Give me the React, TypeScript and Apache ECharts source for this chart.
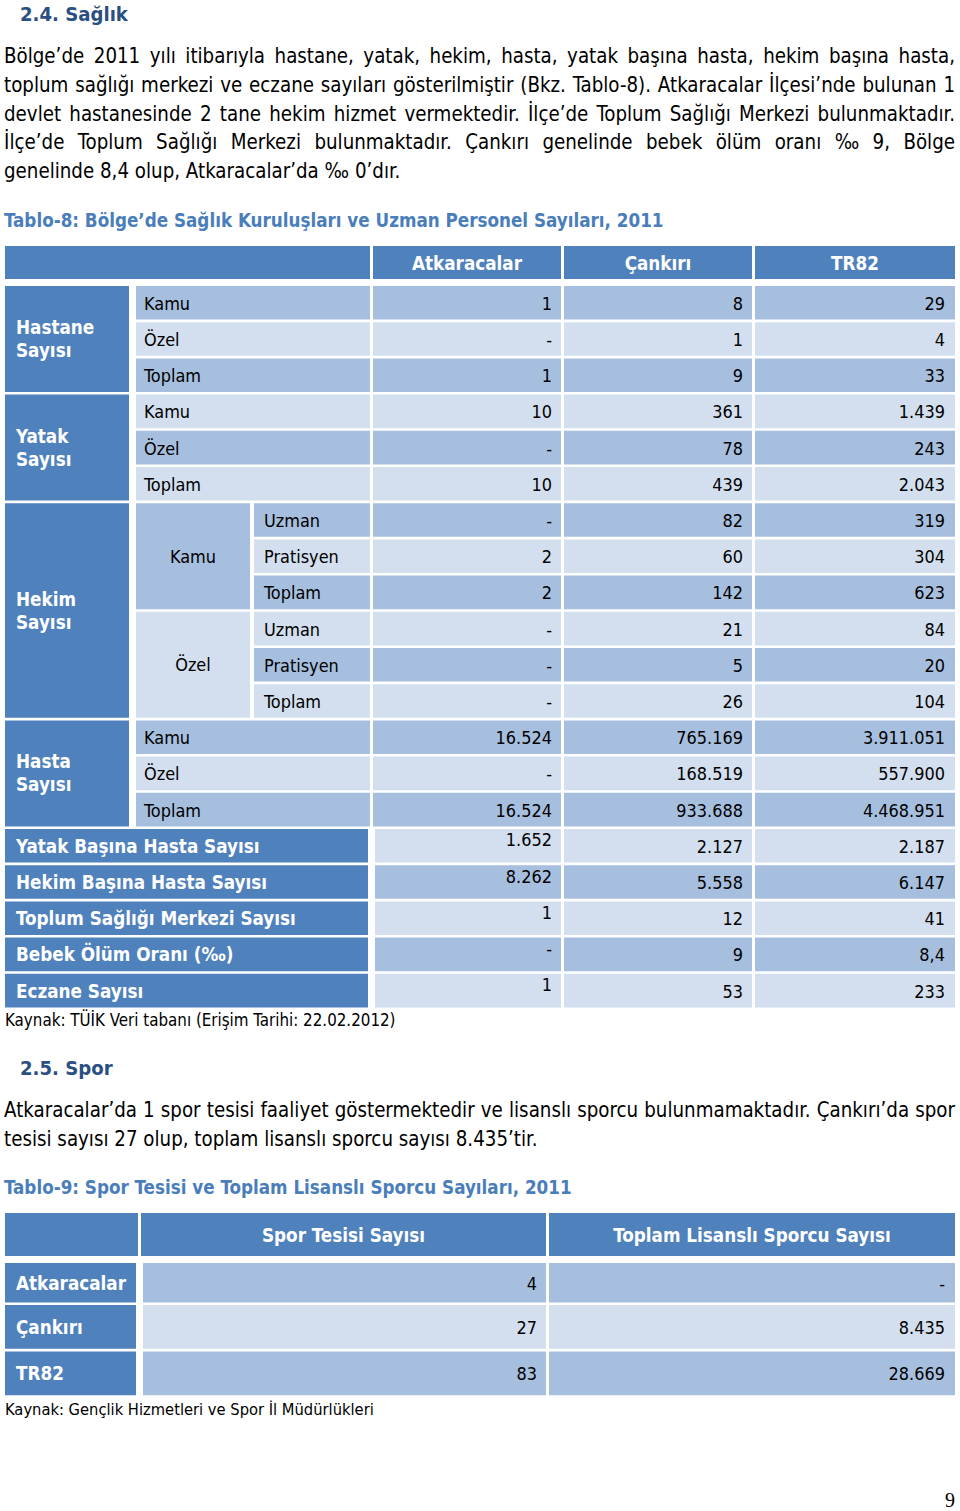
import React, { useEffect, useRef } from 'react';
import * as echarts from 'echarts';

const FF = '"DejaVu Sans Condensed", "DejaVu Sans", sans-serif';
const SERIF = '"Liberation Serif", "DejaVu Serif", serif';

const headingColor = '#2B4F82';
const titleColor = '#4A7EBB';
const headFill = '#4F81BD';
const darkFill = '#A7BFDE';
const lightFill = '#D3DFEE';

const heading1 = '2.4. Sağlık';
const para1 = [
  'Bölge’de 2011 yılı itibarıyla hastane, yatak, hekim, hasta, yatak başına hasta, hekim başına hasta,',
  'toplum sağlığı merkezi ve eczane sayıları gösterilmiştir (Bkz. Tablo-8). Atkaracalar İlçesi’nde bulunan 1',
  'devlet hastanesinde 2 tane hekim hizmet vermektedir. İlçe’de Toplum Sağlığı Merkezi bulunmaktadır.',
  'İlçe’de Toplum Sağlığı Merkezi bulunmaktadır. Çankırı genelinde bebek ölüm oranı ‰ 9, Bölge',
  'genelinde 8,4 olup, Atkaracalar’da ‰ 0’dır.',
];
const table8Title = 'Tablo-8: Bölge’de Sağlık Kuruluşları ve Uzman Personel Sayıları, 2011';
const t8Columns = ['Atkaracalar', 'Çankırı', 'TR82'];
const t8Groups = ['Hastane\nSayısı', 'Yatak\nSayısı', 'Hekim\nSayısı', 'Hasta\nSayısı'];
const t8GroupSpans = [3, 3, 6, 3];
const t8HekimGroup = 2;
const t8HekimSub = ['Kamu', 'Özel'];
const t8RowLabels = [
  'Kamu', 'Özel', 'Toplam',
  'Kamu', 'Özel', 'Toplam',
  'Uzman', 'Pratisyen', 'Toplam', 'Uzman', 'Pratisyen', 'Toplam',
  'Kamu', 'Özel', 'Toplam',
  'Yatak Başına Hasta Sayısı', 'Hekim Başına Hasta Sayısı', 'Toplum Sağlığı Merkezi Sayısı',
  'Bebek Ölüm Oranı (‰)', 'Eczane Sayısı',
];
const t8Atkaracalar = ['1', '-', '1', '10', '-', '10', '-', '2', '2', '-', '-', '-', '16.524', '-', '16.524', '1.652', '8.262', '1', '-', '1'];
const t8Cankiri = ['8', '1', '9', '361', '78', '439', '82', '60', '142', '21', '5', '26', '765.169', '168.519', '933.688', '2.127', '5.558', '12', '9', '53'];
const t8TR82 = ['29', '4', '33', '1.439', '243', '2.043', '319', '304', '623', '84', '20', '104', '3.911.051', '557.900', '4.468.951', '2.187', '6.147', '41', '8,4', '233'];
const source8 = 'Kaynak: TÜİK Veri tabanı (Erişim Tarihi: 22.02.2012)';

const heading2 = '2.5. Spor';
const para2 = [
  'Atkaracalar’da 1 spor tesisi faaliyet göstermektedir ve lisanslı sporcu bulunmamaktadır. Çankırı’da spor',
  'tesisi sayısı 27 olup, toplam lisanslı sporcu sayısı 8.435’tir.',
];
const table9Title = 'Tablo-9: Spor Tesisi ve Toplam Lisanslı Sporcu Sayıları, 2011';
const t9Columns = ['Spor Tesisi Sayısı', 'Toplam Lisanslı Sporcu Sayısı'];
const t9Rows = ['Atkaracalar', 'Çankırı', 'TR82'];
const t9Tesis = ['4', '27', '83'];
const t9Sporcu = ['-', '8.435', '28.669'];
const source9 = 'Kaynak: Gençlik Hizmetleri ve Spor İl Müdürlükleri';
const pageNumber = '9';

function buildElements() {
  const canvas = document.createElement('canvas');
  const ctx = canvas.getContext('2d') as CanvasRenderingContext2D;
  const measure = (t: string, size: number, bold: boolean) => {
    ctx.font = `${bold ? 'bold ' : ''}${size}px ${FF}`;
    return ctx.measureText(t).width;
  };
  const fit = (t: string, bold: boolean, target: number, lo: number, hi: number) =>
    Math.max(lo, Math.min(hi, (100 * target) / measure(t, 100, bold)));

  const els: any[] = [];
  const rect = (x: number, y: number, w: number, h: number, fill: string) =>
    els.push({ type: 'rect', z: 1, shape: { x, y, width: w, height: h }, style: { fill } });
  const text = (t: string, x: number, y: number, size: number, o: any = {}) =>
    els.push({
      type: 'text', z: 10, x, y,
      style: {
        text: t, fill: o.fill || '#000', fontSize: size, fontFamily: o.family || FF,
        fontWeight: o.bold ? 'bold' : 'normal', align: o.align || 'left', verticalAlign: 'middle',
        lineHeight: o.lineHeight,
      },
    });
  const justified = (line: string, x0: number, x1: number, y: number, size: number) => {
    const words = line.split(' ');
    const ws = words.map((w) => measure(w, size, false));
    const total = ws.reduce((a, b) => a + b, 0);
    const gap = (x1 - x0 - total) / (words.length - 1);
    let x = x0;
    words.forEach((w, i) => {
      text(w, x, y, size);
      x += ws[i] + gap;
    });
  };

  const bodySize = fit(para2[1], false, 534, 15, 21);
  const headingSize = fit(heading1, true, 108, 16, 22);
  const titleSize = fit(table8Title, true, 660, 14, 20);
  const cellBold = fit('Toplum Sağlığı Merkezi Sayısı', true, 280, 14, 20);
  const cellNormal = (fit('Pratisyen', false, 74, 14, 21) + fit('4.468.951', false, 83, 14, 21)) / 2;
  const sourceSize = fit(source8, false, 391, 13, 18);
  const source9Size = fit(source9, false, 369, 13, 18);

  // Section 2.4
  text(heading1, 20, 14, headingSize, { bold: true, fill: headingColor });
  const p1y = [56, 85, 113.5, 142, 171];
  para1.forEach((l, i) => {
    if (i < para1.length - 1) justified(l, 4, 955, p1y[i], bodySize);
    else text(l, 4, p1y[i], bodySize);
  });
  text(table8Title, 4, 220, titleSize, { bold: true, fill: titleColor });

  // Table 8
  const colX = [[373, 561], [564, 752], [755, 955]];
  rect(5, 246, 365, 33, headFill);
  t8Columns.forEach((c, i) => {
    rect(colX[i][0], 246, colX[i][1] - colX[i][0], 33, headFill);
    text(c, (colX[i][0] + colX[i][1]) / 2, 263, cellBold, { bold: true, fill: '#fff', align: 'center' });
  });
  const rowTop = (i: number) => 286 + i * 36.2;
  const rowH = 33.6;
  const fillOf = (i: number) => (i % 2 === 0 ? darkFill : lightFill);
  let r = 0;
  t8Groups.forEach((g, gi) => {
    const span = t8GroupSpans[gi];
    const top = rowTop(r);
    const bottom = rowTop(r + span - 1) + rowH;
    rect(5, top, 124, bottom - top, headFill);
    text(g, 16, (top + bottom) / 2, cellBold, { bold: true, fill: '#fff', lineHeight: 23 });
    if (gi === t8HekimGroup) {
      t8HekimSub.forEach((s, si) => {
        const st = rowTop(r + si * 3);
        const sb = rowTop(r + si * 3 + 2) + rowH;
        rect(136, st, 114, sb - st, si === 0 ? darkFill : lightFill);
        text(s, 193, (st + sb) / 2, cellNormal, { align: 'center' });
      });
      for (let k = 0; k < span; k++) {
        const i = r + k;
        rect(254, rowTop(i), 116, rowH, fillOf(i));
        text(t8RowLabels[i], 264, rowTop(i) + rowH / 2 + 0.5, cellNormal);
      }
    } else {
      for (let k = 0; k < span; k++) {
        const i = r + k;
        rect(136, rowTop(i), 234, rowH, fillOf(i));
        text(t8RowLabels[i], 144, rowTop(i) + rowH / 2 + 0.5, cellNormal);
      }
    }
    r += span;
  });
  for (let i = r; i < t8RowLabels.length; i++) {
    rect(5, rowTop(i), 363, rowH, headFill);
    text(t8RowLabels[i], 16, rowTop(i) + rowH / 2 + 0.5, cellBold, { bold: true, fill: '#fff' });
  }
  const cols = [t8Atkaracalar, t8Cankiri, t8TR82];
  const rightX = [552, 743, 945];
  for (let i = 0; i < t8RowLabels.length; i++) {
    const summary = i >= r;
    cols.forEach((vals, c) => {
      const x0 = summary && c === 0 ? 375 : colX[c][0];
      rect(x0, rowTop(i), colX[c][1] - x0, rowH, fillOf(i));
      const dy = summary && c === 0 ? -6 : 0.5;
      text(vals[i], rightX[c], rowTop(i) + rowH / 2 + dy, cellNormal, { align: 'right' });
    });
  }
  text(source8, 5, 1020, sourceSize);

  // Section 2.5
  text(heading2, 20, 1068, headingSize, { bold: true, fill: headingColor });
  justified(para2[0], 4, 955, 1110, bodySize);
  text(para2[1], 4, 1139, bodySize);
  text(table9Title, 4, 1187, titleSize, { bold: true, fill: titleColor });

  // Table 9
  const h9 = [[141, 546], [549, 955]];
  rect(5, 1213, 133, 43, headFill);
  t9Columns.forEach((c, i) => {
    rect(h9[i][0], 1213, h9[i][1] - h9[i][0], 43, headFill);
    text(c, (h9[i][0] + h9[i][1]) / 2, 1235, cellBold, { bold: true, fill: '#fff', align: 'center' });
  });
  const t9Top = [1263, 1305, 1351.5];
  const t9H = [39.5, 43.7, 43.7];
  const v9 = [[143, 546], [549, 955]];
  const v9Right = [537, 945];
  t9Rows.forEach((lab, i) => {
    const cy = t9Top[i] + t9H[i] / 2 + 0.5;
    rect(5, t9Top[i], 131, t9H[i], headFill);
    text(lab, 16, cy, cellBold, { bold: true, fill: '#fff' });
    [t9Tesis, t9Sporcu].forEach((vals, c) => {
      rect(v9[c][0], t9Top[i], v9[c][1] - v9[c][0], t9H[i], fillOf(i));
      text(vals[i], v9Right[c], cy, cellNormal, { align: 'right' });
    });
  });
  text(source9, 5, 1409, source9Size);

  text(pageNumber, 955, 1500, 20, { family: SERIF, align: 'right' });
  return els;
}

export default function App() {
  const ref = useRef<HTMLDivElement>(null);
  useEffect(() => {
    document.body.style.margin = '0';
    const chart = echarts.init(ref.current as HTMLDivElement, null, { renderer: 'svg', width: 960, height: 1511 });
    chart.setOption({
      animation: false,
      backgroundColor: '#ffffff',
      graphic: { elements: buildElements() },
    });
    return () => chart.dispose();
  }, []);
  return <div ref={ref} style={{ width: 960, height: 1511 }} />;
}
